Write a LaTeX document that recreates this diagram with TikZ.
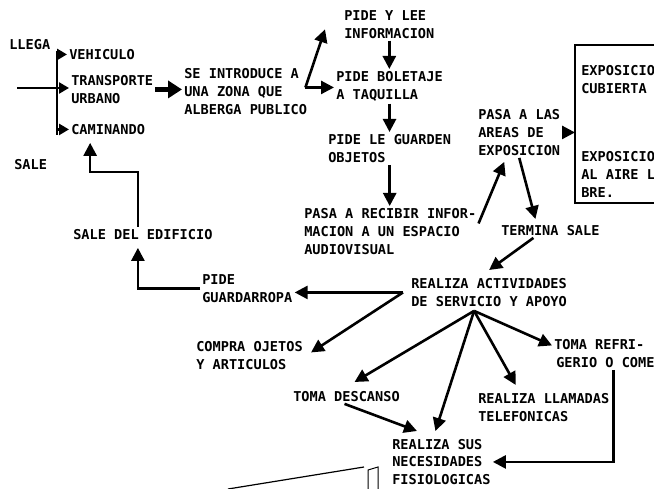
\documentclass[tikz,border=0pt]{standalone}
\usepackage{fontspec}
\setmainfont{DejaVu Sans Mono}
\usetikzlibrary{arrows.meta}

\begin{document}
\begin{tikzpicture}[x=1pt,y=-1pt,->,>={Triangle[length=13pt,width=13pt]},line width=2.6pt,
  every node/.style={font=\fontsize{13.6}{18}\selectfont\bfseries,align=left,anchor=north west,inner sep=1pt},
  fat/.style={line width=5.5pt,>={Triangle[length=14pt,width=17pt]}},
  tick/.style={>={Triangle[length=10pt,width=11pt]}}]
 \useasboundingbox (0,0) rectangle (654,489);

 \node (llega)   at (7,37)    {LLEGA};
 \node (veh)     at (67,47)   {VEHICULO};
 \node (trans)   at (69,73)   {TRANSPORTE\\URBANO};
 \node (cam)     at (69,122)  {CAMINANDO};
 \node (sale)    at (12,157)  {SALE};
 \node (intro)   at (182,66)  {SE INTRODUCE A\\UNA ZONA QUE\\ALBERGA PUBLICO};
 \node (info)    at (342,8)   {PIDE Y LEE\\INFORMACION};
 \node (bolet)   at (334,69)  {PIDE BOLETAJE\\A TAQUILLA};
 \node (guard)   at (326,132) {PIDE LE GUARDEN\\OBJETOS};
 \node (recib)   at (302,206) {PASA A RECIBIR INFOR-\\MACION A UN ESPACIO\\AUDIOVISUAL};
 \node (pasa)    at (476,107) {PASA A LAS\\AREAS DE\\EXPOSICION};
 \node (cub)     at (579,63)  {EXPOSICIO\\CUBIERTA};
 \node (aire)    at (579,149) {EXPOSICIO\\AL AIRE L\\BRE.};
 \node (termina) at (499,223) {TERMINA SALE};
 \node (activ)   at (409,276) {REALIZA ACTIVIDADES\\DE SERVICIO Y APOYO};
 \node (edif)    at (71,227)  {SALE DEL EDIFICIO};
 \node (ropa)    at (200,272) {PIDE\\GUARDARROPA};
 \node (compra)  at (194,339) {COMPRA OJETOS\\Y ARTICULOS};
 \node (desc)    at (291,389) {TOMA DESCANSO};
 \node (refri)   at (552,337) {TOMA REFRI-\\\hspace*{2pt}GERIO O COME};
 \node (llam)    at (476,391) {REALIZA LLAMADAS\\TELEFONICAS};
 \node[font=\fontsize{13.6}{17.5}\selectfont\bfseries]
                 (nec)     at (390,437) {REALIZA SUS\\NECESIDADES\\FISIOLOGICAS};

 \coordinate (in)   at (17,88);
 \coordinate (btop) at (57,51);
 \coordinate (bbot) at (57,135);
 \coordinate (boxl) at (575,130);
 \coordinate (j1) at ([xshift=-4pt,yshift=4pt]intro.east);
 \coordinate (j2) at ([xshift=-6pt]activ.west);
 \coordinate (j3) at ([xshift=-15pt,yshift=-2pt]activ.south);

 \draw[-] (btop) -- (bbot);
 \draw[-] (in) -- (in -| btop);
 \draw[-] (654,45) -| (575,203) -- (654,203);

 \path[tick] (veh.west -| btop) edge (veh.west)
             (in -| btop)    edge (in -| trans.west)
             (cam.west -| btop) edge (cam.west);
 \draw[fat] (trans.east) -- (trans.east -| intro.west);

 \path (j1)            edge ([xshift=-17pt,yshift=-5pt]info.west)
       (j1)            edge (j1 -| bolet.west)
       (info.south)    edge (info.south |- bolet.north)
       (bolet.south)   edge (bolet.south |- guard.north)
       (guard.south)   edge (guard.south |- recib.north)
       ([yshift=8pt]recib.east) edge ([xshift=-15pt,yshift=-4pt]pasa.south)
       (pasa.south)    edge ([xshift=-15pt,yshift=4pt]termina.north)
       (pasa.east)     edge (pasa.east -| boxl)
       ([xshift=-17pt]termina.south) edge ([yshift=6pt]activ.north)
       (j2)            edge (j2 -| ropa.east)
       (j2)            edge ([xshift=6pt,yshift=3pt]compra.east)
       (j3)            edge ([xshift=8pt,yshift=7pt]desc.north)
       (j3)            edge ([xshift=-6pt,yshift=6pt]nec.north)
       (j3)            edge ([xshift=-28pt,yshift=6pt]llam.north)
       (j3)            edge ([yshift=8pt]refri.west)
       ([xshift=-2pt]desc.south) edge ([xshift=27pt,yshift=6pt]nec.north west);

 \draw (ropa.west) -| ([xshift=-5pt,yshift=-6pt]edif.south);
 \draw ([xshift=-5pt]edif.north) -- ++(0,-55) -| ([xshift=-18pt,yshift=-6pt]cam.south);
 \draw ([xshift=9pt]refri.south) |- (nec.east);

 \draw[-,line width=1.2pt] (228,489) -- (364,467);
 \draw[-,line width=1pt] (368,489) -- (368,470) -- (378,467) -- (378,489);
\end{tikzpicture}
\end{document}
